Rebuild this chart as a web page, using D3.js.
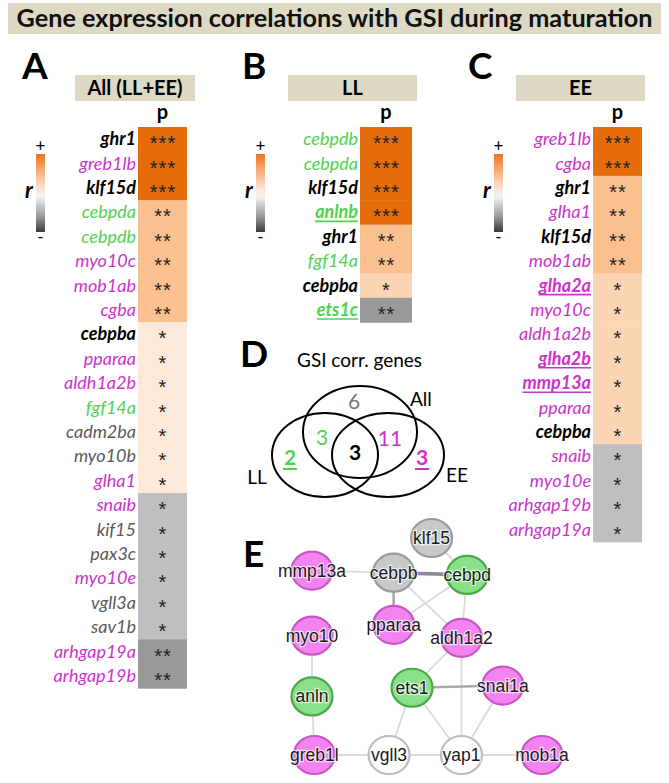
<!DOCTYPE html>
<html>
<head>
<meta charset="utf-8">
<script src="https://cdn.jsdelivr.net/npm/d3@7"></script>
<style>
  body { margin: 0; background: #fff; }
  text { font-family: Lato, "Open Sans", sans-serif; }
</style>
</head>
<body>
<div id="chart"></div>
<script>
// ---- Data ----
// Panel A: All (LL+EE)
const genesAll = ["ghr1", "greb1lb", "klf15d", "cebpda", "cebpdb", "myo10c", "mob1ab", "cgba",
  "cebpba", "pparaa", "aldh1a2b", "fgf14a", "cadm2ba", "myo10b", "glha1",
  "snaib", "kif15", "pax3c", "myo10e", "vgll3a", "sav1b", "arhgap19a", "arhgap19b"];
const rAll = [0.74, 0.73, 0.71, 0.56, 0.55, 0.54, 0.53, 0.52,
  0.28, 0.27, 0.26, 0.25, 0.24, 0.23, 0.22,
  -0.22, -0.23, -0.24, -0.25, -0.26, -0.27, -0.52, -0.53];
const starsAll = [3, 3, 3, 2, 2, 2, 2, 2, 1, 1, 1, 1, 1, 1, 1, 1, 1, 1, 1, 1, 1, 2, 2];

// Panel B: LL
const genesLL = ["cebpdb", "cebpda", "klf15d", "anlnb", "ghr1", "fgf14a", "cebpba", "ets1c"];
const rLL = [0.86, 0.85, 0.82, 0.8, 0.66, 0.64, 0.46, -0.66];
const starsLL = [3, 3, 3, 3, 2, 2, 1, 2];

// Panel C: EE
const genesEE = ["greb1lb", "cgba", "ghr1", "glha1", "klf15d", "mob1ab", "glha2a", "myo10c",
  "aldh1a2b", "glha2b", "mmp13a", "pparaa", "cebpba", "snaib", "myo10e", "arhgap19b", "arhgap19a"];
const rEE = [0.84, 0.82, 0.68, 0.67, 0.66, 0.65, 0.46, 0.45, 0.44, 0.43, 0.42, 0.41, 0.4,
  -0.44, -0.43, -0.42, -0.41];
const starsEE = [3, 3, 2, 2, 2, 2, 1, 1, 1, 1, 1, 1, 1, 1, 1, 1, 1];

// Panel E: network (layout units 0-10)
const netNodes = ["klf15", "mmp13a", "cebpb", "cebpd", "pparaa", "aldh1a2", "myo10",
  "anln", "ets1", "snai1a", "greb1l", "vgll3", "yap1", "mob1a"];
const netGx = [5.2, 0, 3.55, 6.75, 3.55, 6.5, 0, 0, 4.35, 8.3, 0.1, 3.35, 6.5, 10];
const netGy = [0, 1.5, 1.6, 1.7, 4.0, 4.6, 4.5, 7.3, 6.9, 6.8, 10, 10, 10, 10];
const netGroup = ["all3", "allEE", "all3", "allLL", "allEE", "allEE", "allEE",
  "allLL", "allLL", "allEE", "allEE", "allOnly", "allOnly", "allEE"];
const netEdges = [
  ["mmp13a", "cebpb", 1], ["cebpb", "cebpd", 3], ["klf15", "cebpd", 1],
  ["cebpb", "pparaa", 2], ["cebpd", "pparaa", 1], ["cebpb", "aldh1a2", 1],
  ["cebpd", "aldh1a2", 1], ["myo10", "anln", 1], ["anln", "greb1l", 1],
  ["aldh1a2", "ets1", 1], ["aldh1a2", "yap1", 1], ["ets1", "snai1a", 2],
  ["ets1", "vgll3", 1], ["ets1", "yap1", 1], ["snai1a", "yap1", 1],
  ["greb1l", "vgll3", 1], ["vgll3", "yap1", 1], ["yap1", "mob1a", 1]
];

// ---- Helpers ----
const setAll = new Set(genesAll), setLL = new Set(genesLL), setEE = new Set(genesEE);
function category(g) {
  const a = setAll.has(g), l = setLL.has(g), e = setEE.has(g);
  if (a && l && e) return "all3";
  if (a && l) return "allLL";
  if (a && e) return "allEE";
  if (a) return "allOnly";
  if (l) return "llOnly";
  return "eeOnly";
}
const textColor = { all3: "#000", allLL: "#4fd24f", allEE: "#cc33cc", allOnly: "#5a5a5a", llOnly: "#4fd24f", eeOnly: "#cc33cc" };
const boldCat = new Set(["all3", "llOnly", "eeOnly"]);
const underlineCat = new Set(["llOnly", "eeOnly"]);

const cellColor = d3.scaleThreshold()
  .domain([-0.5, 0, 0.3, 0.5, 0.7])
  .range(["#999999", "#bfbfbf", "#fde9d9", "#fcd5b4", "#fac090", "#e46c0a"]);

const W = 669, H = 783;
const svg = d3.select("#chart").append("svg")
  .attr("width", W).attr("height", H)
  .attr("viewBox", `0 0 ${W} ${H}`);

const defs = svg.append("defs");
const grad = defs.append("linearGradient").attr("id", "rgrad")
  .attr("x1", 0).attr("y1", 0).attr("x2", 0).attr("y2", 1);
[["0%", "#ea7424"], ["20%", "#f5a970"], ["45%", "#fce6d8"], ["55%", "#f2f2f2"], ["80%", "#9a9a9a"], ["100%", "#3a3a3a"]]
  .forEach(([o, c]) => grad.append("stop").attr("offset", o).attr("stop-color", c));

// Title
svg.append("rect").attr("x", 8).attr("y", 3).attr("width", 653).attr("height", 31).attr("fill", "#ddd9c4");
svg.append("text").attr("x", 334.5).attr("y", 27).attr("text-anchor", "middle")
  .attr("font-size", 24).attr("font-weight", "bold").attr("fill", "#111")
  .attr("textLength", 636).attr("lengthAdjust", "spacingAndGlyphs")
  .text("Gene expression correlations with GSI during maturation");

// ---- Heatmap panels ----
const rowTop = 127, rowH = 24.4;
const panels = [
  { letter: "A", head: "All (LL+EE)", genes: genesAll, r: rAll, stars: starsAll, letterX: 22, boxX: 75, boxW: 120, colX: 138, colW: 49, legX: 36 },
  { letter: "B", head: "LL", genes: genesLL, r: rLL, stars: starsLL, letterX: 242, boxX: 288, boxW: 129, colX: 360, colW: 52, legX: 256 },
  { letter: "C", head: "EE", genes: genesEE, r: rEE, stars: starsEE, letterX: 468, boxX: 516, boxW: 129, colX: 593, colW: 49, legX: 494 }
];

panels.forEach(p => {
  const g = svg.append("g");
  const rows = p.genes.map((gene, i) => ({ gene, r: p.r[i], stars: p.stars[i], cat: category(gene) }));

  const x = d3.scaleBand().domain(["p"]).range([p.colX, p.colX + p.colW]);
  const y = d3.scaleBand().domain(p.genes).range([rowTop, rowTop + p.genes.length * rowH]);

  g.append("text").attr("x", p.letterX).attr("y", 79)
    .attr("font-size", 37).attr("font-weight", "bold").text(p.letter);

  g.append("rect").attr("x", p.boxX).attr("y", 75).attr("width", p.boxW).attr("height", 26).attr("fill", "#ddd9c4");
  g.append("text").attr("x", p.boxX + p.boxW / 2).attr("y", 95).attr("text-anchor", "middle")
    .attr("font-size", 20).attr("font-weight", "bold").text(p.head);

  g.append("text").attr("x", x("p") + x.bandwidth() / 2).attr("y", 119).attr("text-anchor", "middle")
    .attr("font-size", 20).attr("font-weight", "bold").text("p");

  g.selectAll("rect.cell").data(rows).join("rect").attr("class", "cell")
    .attr("x", x("p")).attr("width", x.bandwidth())
    .attr("y", d => y(d.gene)).attr("height", y.bandwidth() + 0.5)
    .attr("fill", d => cellColor(d.r));

  g.selectAll("text.star").data(rows).join("text").attr("class", "star")
    .attr("x", x("p") + x.bandwidth() / 2 + 0.5)
    .attr("y", d => y(d.gene) + y.bandwidth() / 2 + 11)
    .attr("text-anchor", "middle").attr("font-size", 20).attr("fill", "#222")
    .style("font-family", "'Liberation Sans', Arial, sans-serif")
    .attr("letter-spacing", 1)
    .text(d => "*".repeat(d.stars));

  const labels = g.selectAll("text.gene").data(rows).join("text").attr("class", "gene")
    .attr("x", p.colX - 2)
    .attr("y", d => y(d.gene) + y.bandwidth() / 2 + 6)
    .attr("text-anchor", "end").attr("font-size", 18).attr("font-style", "italic")
    .attr("font-weight", d => boldCat.has(d.cat) ? "bold" : "normal")
    .attr("fill", d => textColor[d.cat])
    .text(d => d.gene);

  labels.filter(d => underlineCat.has(d.cat)).each(function (d) {
    const len = this.getComputedTextLength();
    g.append("line")
      .attr("x1", p.colX - 2 - len).attr("x2", p.colX - 2)
      .attr("y1", y(d.gene) + y.bandwidth() / 2 + 9).attr("y2", y(d.gene) + y.bandwidth() / 2 + 9)
      .attr("stroke", textColor[d.cat]).attr("stroke-width", 1.6);
  });

  // r legend
  g.append("rect").attr("x", p.legX).attr("y", 154).attr("width", 9).attr("height", 78).attr("fill", "url(#rgrad)");
  g.append("text").attr("x", p.legX + 4.5).attr("y", 152).attr("text-anchor", "middle").attr("font-size", 17).text("+");
  g.append("text").attr("x", p.legX + 4.5).attr("y", 243).attr("text-anchor", "middle").attr("font-size", 17).text("-");
  g.append("text").attr("x", p.legX - 7).attr("y", 198).attr("text-anchor", "middle")
    .attr("font-size", 22).attr("font-weight", "bold").attr("font-style", "italic").text("r");
});

// ---- Panel D: Venn ----
const vennCounts = {
  allOnly: genesAll.filter(g => category(g) === "allOnly").length,
  allLL: genesAll.filter(g => category(g) === "allLL").length,
  allEE: genesAll.filter(g => category(g) === "allEE").length,
  all3: genesAll.filter(g => category(g) === "all3").length,
  llOnly: genesLL.filter(g => category(g) === "llOnly").length,
  eeOnly: genesEE.filter(g => category(g) === "eeOnly").length
};
const dG = svg.append("g");
dG.append("text").attr("x", 240).attr("y", 367).attr("font-size", 37).attr("font-weight", "bold").text("D");
dG.append("text").attr("x", 297).attr("y", 367).attr("font-size", 19).text("GSI corr. genes");
[[325, 455, 53, 42], [388, 455, 56, 42], [360, 432, 57, 46]].forEach(([cx, cy, rx, ry]) =>
  dG.append("ellipse").attr("cx", cx).attr("cy", cy).attr("rx", rx).attr("ry", ry)
    .attr("fill", "none").attr("stroke", "#000").attr("stroke-width", 2));
const vennLabels = [
  { k: "allOnly", x: 354, y: 409, bold: false },
  { k: "allLL", x: 322, y: 445, bold: false },
  { k: "all3", x: 355, y: 460, bold: true },
  { k: "allEE", x: 390, y: 446, bold: false },
  { k: "llOnly", x: 290, y: 465, bold: true },
  { k: "eeOnly", x: 422, y: 465, bold: true }
];
vennLabels.forEach(v => {
  const t = dG.append("text").attr("x", v.x).attr("y", v.y).attr("text-anchor", "middle")
    .attr("font-size", 21).attr("font-weight", v.bold ? "bold" : "normal")
    .attr("fill", v.k === "allOnly" ? "#777" : textColor[v.k]).text(vennCounts[v.k]);
  if (underlineCat.has(v.k)) {
    const len = t.node().getComputedTextLength();
    dG.append("line").attr("x1", v.x - len / 2 - 1).attr("x2", v.x + len / 2 + 1)
      .attr("y1", v.y + 4).attr("y2", v.y + 4).attr("stroke", textColor[v.k]).attr("stroke-width", 2);
  }
});
dG.append("text").attr("x", 410).attr("y", 406).attr("font-size", 19).text("All");
dG.append("text").attr("x", 257).attr("y", 484).attr("text-anchor", "middle").attr("font-size", 19).text("LL");
dG.append("text").attr("x", 457).attr("y", 482).attr("text-anchor", "middle").attr("font-size", 19).text("EE");

// ---- Panel E: network ----
const eG = svg.append("g");
eG.append("text").attr("x", 243).attr("y", 567).attr("font-size", 37).attr("font-weight", "bold").text("E");
const nx = d3.scaleLinear().domain([0, 10]).range([312, 542]);
const ny = d3.scaleLinear().domain([0, 10]).range([538, 755]);
const nodes = netNodes.map((n, i) => ({ id: n, x: nx(netGx[i]), y: ny(netGy[i]), group: netGroup[i] }));
const byId = new Map(nodes.map(n => [n.id, n]));
const edgeStyle = { 1: ["#dadada", 1.8], 2: ["#a8a8a8", 2.6], 3: ["#8a8a9c", 3.6] };
eG.selectAll("line.edge").data(netEdges).join("line").attr("class", "edge")
  .attr("x1", d => byId.get(d[0]).x).attr("y1", d => byId.get(d[0]).y)
  .attr("x2", d => byId.get(d[1]).x).attr("y2", d => byId.get(d[1]).y)
  .attr("stroke", d => edgeStyle[d[2]][0]).attr("stroke-width", d => edgeStyle[d[2]][1]);
const nodeFill = { all3: "#c8c8c8", allLL: "#88e088", allEE: "#f283f0", allOnly: "#ffffff" };
const nodeStroke = { all3: "#9a9a9a", allLL: "#4aa84a", allEE: "#c657c4", allOnly: "#bdbdbd" };
eG.selectAll("ellipse.node").data(nodes).join("ellipse").attr("class", "node")
  .attr("cx", d => d.x).attr("cy", d => d.y).attr("rx", 20.5).attr("ry", 19)
  .attr("fill", d => nodeFill[d.group]).attr("stroke", d => nodeStroke[d.group]).attr("stroke-width", 2.2);
eG.selectAll("text.nlab").data(nodes).join("text").attr("class", "nlab")
  .attr("x", d => d.x).attr("y", d => d.y + 6).attr("text-anchor", "middle")
  .style("font-family", "'Liberation Sans', Arial, sans-serif")
  .attr("font-size", 17.5).attr("fill", "#1a1a1a")
  .attr("stroke", "#fff").attr("stroke-width", 2.5).attr("stroke-opacity", 0.7)
  .attr("paint-order", "stroke")
  .text(d => d.id);
</script>
</body>
</html>
